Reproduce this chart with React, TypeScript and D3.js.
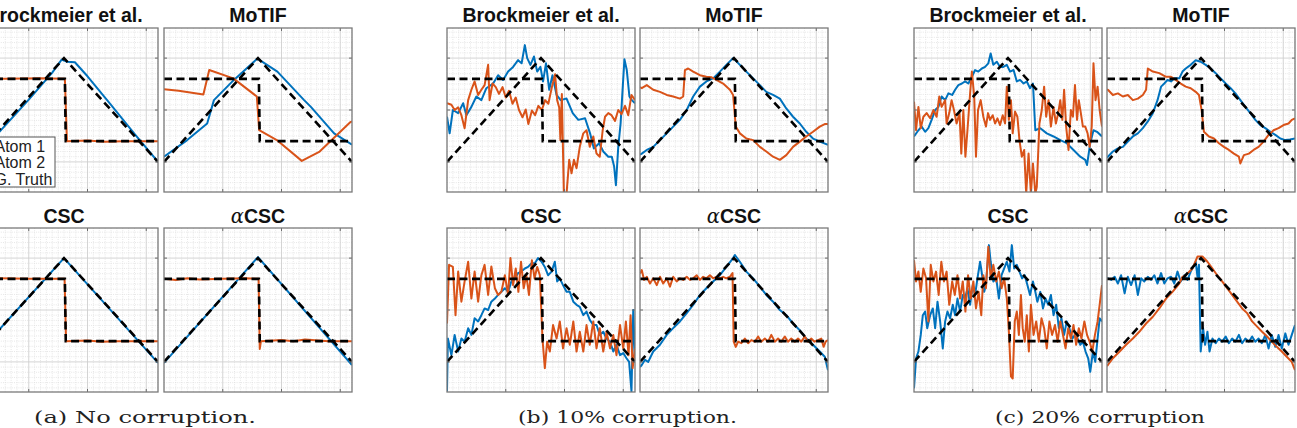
import { useEffect, useRef } from 'react';
import * as d3 from 'd3';

type Pt = [number, number];

// ground truth atoms (sample index 0..64)
const gtTriangle: Pt[] = [[0, -1], [32, 1], [64, -1]];
const gtStep: Pt[] = [[0, 0.6], [32.3, 0.6], [32.6, -0.6], [64, -0.6]];

// (a) no corruption
const aBrockBlue: Pt[] = [[0, -1.05], [10, -0.42], [20, 0.2], [28, 0.72], [31.2, 0.97], [32.2, 0.95], [33, 0.93], [35.7, 0.92], [40, 0.65], [48, 0.1], [56, -0.46], [64, -1.0]];
const aBrockOrange: Pt[] = [[0, 0.6], [12, 0.6], [24, 0.61], [32.3, 0.6], [33.0, -0.6], [40, -0.59], [46, -0.61], [52, -0.6], [64, -0.6]];
const aMotifBlue: Pt[] = [[0, -0.9], [7.9, -0.58], [14.7, -0.26], [17, 0.19], [23.8, 0.58], [31.8, 0.99], [38.6, 0.74], [47.7, 0.19], [50, 0.06], [57.9, -0.45], [64, -0.67]];
const aMotifOrange: Pt[] = [[0, 0.4], [5, 0.37], [13.4, 0.3], [15.4, 0.77], [23.6, 0.61], [31.6, 0.26], [32.4, -0.39], [38.4, -0.58], [46.9, -0.98], [53, -0.8], [63.3, -0.24], [64, -0.22]];
const aCscBlue: Pt[] = [[0, -1.0], [32, 1.0], [64, -1.02]];
const aCscOrange: Pt[] = [[0, 0.6], [10, 0.61], [20, 0.6], [32.2, 0.6], [32.7, -0.6], [40, -0.59], [45, -0.61], [50, -0.6], [64, -0.6]];
const aAlphaBlue: Pt[] = [[0, -1.02], [32, 1.02], [64, -1.06]];
const aAlphaOrange: Pt[] = [[0, 0.6], [4, 0.58], [8, 0.61], [12, 0.59], [20, 0.6], [28, 0.61], [32.2, 0.6], [32.6, -0.75], [33, -0.6], [40, -0.58], [44, -0.6], [48, -0.57], [56, -0.6], [64, -0.6]];

// (b) 10% corruption
const bBrockBlue: Pt[] = [[0, -0.13], [0.9, -0.45], [2.0, 0.0], [3.8, -0.06], [5.5, 0.13], [6.6, -0.1], [8.3, 0.06], [10.0, 0.26], [11.7, 0.19], [13.4, 0.42], [15.7, 0.51], [17.4, 0.67], [19.1, 0.58], [20.8, 0.74], [22.5, 0.83], [24.2, 0.96], [25.4, 0.9], [26.5, 1.25], [27.3, 1.0], [28.4, 0.87], [29.6, 1.03], [30.7, 0.74], [31.8, 0.83], [32.7, 0.55], [33.7, 0.9], [34.8, 0.39], [35.9, 0.67], [37.3, 0.29], [38.7, 0.19], [40.7, 0.22], [42.8, -0.06], [44.7, -0.19], [47.0, -0.16], [48.7, -0.45], [50.0, -0.74], [51.8, -0.64], [53.2, -0.8], [54.9, -0.9], [56.1, -0.9], [56.9, -1.09], [57.5, -1.45], [58.3, -0.71], [59.1, -0.26], [59.7, 0.32], [60.4, 0.98], [61.2, 0.77], [62.1, 0.26], [62.9, 0.19], [64, 0.13]];
const bBrockOrange: Pt[] = [[0, 0.13], [1.5, 0.1], [2.6, 0], [3.8, 0.05], [4.9, -0.1], [6.0, -0.35], [7.2, 0.19], [8.3, 0.39], [9.4, 0.55], [10.6, 0.29], [11.7, 0.39], [12.8, 0.48], [14.0, 0.87], [14.5, 0.19], [15.5, 0.51], [16.6, 0.44], [17.7, 0.31], [18.9, 0.44], [20.0, 0.24], [21.1, 0.37], [22.3, 0.12], [23.4, 0.24], [24.5, 0], [25.7, -0.14], [26.8, 0.01], [27.7, -0.27], [28.9, -0.01], [30.0, -0.1], [31.1, 0.08], [32.3, 0], [33.4, 0.19], [34.5, 0.12], [35.7, 0.44], [36.8, 0.69], [37.5, 0.19], [38.2, 0.05], [38.6, -0.58], [39.1, 0.31], [39.8, -1.67], [40.7, -1.61], [41.6, -0.96], [42.4, -1.22], [43.2, -0.96], [44.1, -1.12], [45.2, -0.71], [46.4, -0.45], [47.5, -0.39], [48.6, -0.71], [49.8, -0.51], [50.9, -0.84], [52.0, -0.9], [53.0, -0.39], [53.8, -0.13], [54.9, -0.06], [56.0, -0.1], [57.2, -0.21], [58.3, 0], [59.4, -0.08], [60.6, 0.08], [61.7, -0.1], [62.8, 0.29], [64, 0.19]];
const bMotifBlue: Pt[] = [[0, -0.86], [0.6, -0.84], [2.3, -0.77], [4.5, -0.71], [6.8, -0.58], [9.1, -0.45], [11.3, -0.32], [13.6, -0.19], [15.9, 0], [18.1, 0.26], [20.4, 0.45], [22.6, 0.55], [24.9, 0.61], [27.2, 0.74], [29.4, 0.87], [31.7, 1.0], [34.0, 0.87], [36.2, 0.74], [38.5, 0.61], [40.8, 0.48], [43.0, 0.35], [45.3, 0.29], [47.6, 0.22], [49.8, 0.03], [52.1, -0.13], [54.4, -0.26], [56.6, -0.42], [58.9, -0.55], [61.2, -0.61], [64, -0.67]];
const bMotifOrange: Pt[] = [[0, 0.44], [0.6, 0.42], [2.3, 0.48], [4.5, 0.39], [6.8, 0.35], [9.1, 0.29], [11.3, 0.26], [13.6, 0.22], [14.7, 0.26], [15.3, 0.77], [16.4, 0.8], [18.1, 0.74], [20.4, 0.67], [22.6, 0.64], [24.4, 0.63], [26.0, 0.58], [28.3, 0.51], [30.6, 0.39], [31.7, 0.29], [32.6, -0.32], [34.0, -0.45], [36.2, -0.55], [38.5, -0.58], [40.8, -0.71], [43.0, -0.8], [45.3, -0.9], [47.6, -0.96], [49.8, -0.87], [52.1, -0.71], [54.4, -0.61], [56.6, -0.51], [58.9, -0.42], [61.2, -0.32], [62.9, -0.27], [64, -0.27]];
const bCscBlue: Pt[] = [[0, -1.57], [0.3, -0.55], [1.5, -0.87], [2.6, -0.48], [3.8, -0.8], [4.9, -0.55], [6.0, -0.61], [7.2, -0.35], [8.3, -0.48], [9.4, -0.16], [10.6, -0.22], [11.7, -0.1], [12.8, 0.03], [14.0, 0], [15.1, 0.16], [16.3, 0.22], [17.4, 0.29], [18.5, 0.35], [19.7, 0.42], [20.8, 0.35], [21.9, 0.55], [23.1, 0.61], [24.2, 0.71], [25.3, 0.74], [26.5, 0.8], [27.6, 0.83], [28.8, 0.9], [29.9, 0.9], [31.0, 1.0], [32.2, 0.93], [33.3, 0.83], [34.4, 0.67], [35.6, 0.74], [36.7, 0.93], [37.5, 0.55], [38.4, 0.61], [39.5, 0.48], [40.7, 0.35], [41.8, 0.35], [43.0, 0.16], [44.1, 0.1], [45.2, 0.06], [46.4, -0.1], [47.5, -0.03], [48.6, -0.19], [49.8, -0.29], [50.9, -0.29], [52.0, -0.48], [53.2, -0.42], [54.3, -0.55], [55.5, -0.61], [56.6, -0.8], [57.7, -0.67], [58.9, -0.87], [60.0, -0.83], [61.1, -0.93], [62.0, -1.0], [62.8, -1.57], [63.4, 0], [64, -0.9]];
const bCscOrange: Pt[] = [[0, -0.26], [0.7, 0.87], [2.0, 0.83], [2.9, -0.1], [3.8, 0.74], [4.9, 0.16], [6.0, 0.55], [7.2, 0.93], [8.3, 0.22], [9.4, 0.74], [10.6, 0.16], [11.7, 0.67], [12.8, 0.87], [14.0, 0.29], [15.1, 0.84], [16.3, 0.42], [17.4, 0.29], [18.5, 0.35], [19.7, 0.67], [20.8, 0.29], [21.6, 1.0], [22.5, 0.48], [23.4, 0.8], [24.3, 0.35], [25.2, 0.93], [26.1, 0.42], [27.0, 0.67], [27.9, 0.29], [28.9, 0.96], [29.8, 0.61], [30.7, 0.83], [31.6, 0.67], [32.5, -0.55], [33.3, -1.12], [34.1, -0.61], [35.0, -0.8], [36.1, -0.29], [37.3, -0.55], [38.4, -0.22], [39.5, -0.74], [40.7, -0.35], [41.8, -0.67], [43.0, -0.22], [44.1, -0.8], [45.2, -0.42], [46.4, -0.8], [47.5, -0.29], [48.6, -0.67], [49.8, -0.22], [50.9, -0.74], [52.0, -0.35], [53.2, -0.8], [54.3, -0.42], [55.5, -0.74], [56.6, -0.48], [57.7, -0.87], [58.9, -0.29], [60.0, -0.74], [60.9, -0.22], [61.8, -0.87], [62.5, -0.1], [63.2, -1.12], [64, -0.74]];
const bAlphaBlue: Pt[] = [[0, -1.1], [0.6, -1.06], [1.7, -0.96], [2.8, -1.0], [4.5, -0.8], [6.8, -0.67], [9.1, -0.48], [11.3, -0.35], [13.6, -0.22], [15.9, -0.06], [18.1, 0.1], [20.4, 0.29], [22.6, 0.42], [24.9, 0.55], [27.2, 0.67], [29.4, 0.83], [31.7, 1.0], [32.3, 1.06], [34.0, 0.93], [36.2, 0.74], [38.5, 0.61], [40.8, 0.45], [43.0, 0.29], [45.3, 0.16], [47.6, 0], [49.8, -0.1], [52.1, -0.26], [54.4, -0.39], [56.6, -0.55], [58.9, -0.67], [61.2, -0.8], [62.9, -0.9], [64, -1.16]];
const bAlphaOrange: Pt[] = [[0, 0.7], [0.6, 0.77], [1.4, 0.58], [2.3, 0.64], [3.4, 0.51], [4.5, 0.61], [5.7, 0.48], [6.8, 0.64], [7.9, 0.51], [9.1, 0.61], [10.2, 0.45], [11.3, 0.64], [12.5, 0.55], [13.6, 0.61], [14.7, 0.58], [15.9, 0.64], [17.0, 0.58], [18.1, 0.61], [19.3, 0.67], [20.4, 0.58], [21.5, 0.64], [22.6, 0.61], [23.8, 0.67], [24.9, 0.61], [26.0, 0.64], [27.2, 0.61], [28.3, 0.64], [29.4, 0.61], [30.6, 0.64], [31.5, 0.71], [31.9, -0.61], [32.6, -0.71], [33.4, -0.61], [34.5, -0.64], [35.7, -0.55], [36.8, -0.64], [37.9, -0.58], [39.1, -0.61], [40.2, -0.51], [41.3, -0.61], [42.5, -0.55], [43.6, -0.61], [44.7, -0.48], [45.9, -0.61], [47.0, -0.55], [48.1, -0.61], [49.3, -0.51], [50.4, -0.61], [51.5, -0.55], [52.7, -0.61], [53.8, -0.55], [54.9, -0.61], [56.1, -0.51], [57.2, -0.61], [58.3, -0.55], [59.4, -0.61], [60.6, -0.58], [61.7, -0.55], [62.5, -0.71], [63.2, -0.61], [64, -0.58]];

// (c) 20% corruption
const cBrockBlue: Pt[] = [[0, -0.51], [1.5, -0.39], [2.6, -0.32], [3.8, -0.42], [4.9, -0.35], [6.0, -0.19], [7.2, 0], [8.3, 0.06], [9.4, 0.26], [10.6, 0.19], [11.7, 0.32], [13.0, 0.29], [14.0, 0.39], [15.1, 0.48], [16.3, 0.51], [17.4, 0.55], [18.5, 0.51], [19.7, 0.64], [20.8, 0.77], [21.9, 0.74], [23.1, 0.8], [24.2, 0.83], [25.3, 0.9], [26.1, 1.09], [27.0, 0.87], [28.2, 0.93], [29.3, 0.83], [30.4, 0.83], [31.6, 0.87], [32.7, 0.74], [33.9, 0.77], [35.0, 0.55], [36.1, 0.58], [37.3, 0.51], [38.4, 0.55], [39.5, 0.42], [40.5, 0.51], [41.3, -0.39], [43.0, -0.35], [45.2, -0.45], [47.5, -0.51], [49.8, -0.58], [52.0, -0.64], [54.3, -0.77], [56.6, -0.9], [58.3, -0.96], [58.9, -1.06], [60.0, -0.64], [61.1, -0.39], [62.3, -0.42], [64, -0.51]];
const cBrockOrange: Pt[] = [[0, 0.16], [0.7, -0.39], [1.5, 0.06], [2.3, -0.35], [3.2, -0.13], [4.3, -0.06], [5.5, -0.16], [6.6, 0], [7.7, -0.13], [8.6, 0.26], [9.4, 0.06], [10.6, 0.19], [11.1, -0.26], [12.0, -0.06], [12.8, 0.19], [13.6, 0], [14.5, -0.26], [15.5, -0.06], [16.1, -0.84], [16.8, 0], [17.5, -0.9], [18.2, -0.39], [19.1, 0.32], [19.7, 0.74], [20.5, 0.26], [21.1, -0.9], [21.8, 0], [22.7, 0.19], [23.6, -0.13], [24.5, -0.32], [25.2, -0.06], [25.9, -0.19], [26.8, -0.1], [27.6, -0.26], [28.4, -0.16], [29.3, -0.29], [30.2, -0.1], [31.0, -0.26], [31.6, 0.45], [32.3, -0.19], [33.0, 0.19], [33.6, -0.45], [34.4, -0.03], [35.2, -0.13], [35.9, -0.58], [36.7, -0.9], [37.5, -0.77], [38.2, -1.61], [39.0, -0.84], [39.8, -1.61], [40.5, -1.03], [41.3, -1.61], [41.8, -1.48], [42.7, -0.26], [43.5, 0], [44.3, 0.45], [45.0, -0.13], [45.8, 0.19], [46.6, -0.32], [47.5, 0.06], [48.3, -0.26], [49.1, -0.06], [49.8, 0.19], [50.5, -0.19], [51.1, 0.39], [51.8, -0.32], [52.6, -0.77], [53.4, 0], [54.1, -0.13], [54.8, 0.48], [55.5, -0.19], [56.1, 0.19], [56.8, -0.06], [57.5, -0.32], [58.3, -0.32], [59.1, -0.45], [59.8, -0.71], [60.5, -0.32], [61.1, 0.9], [61.8, 0.19], [62.5, 0.45], [63.2, 0], [64, -0.32]];
const cMotifBlue: Pt[] = [[0, -0.92], [0.3, -0.9], [2.0, -0.8], [3.7, -0.74], [5.4, -0.71], [7.1, -0.61], [8.8, -0.51], [10.5, -0.45], [12.2, -0.35], [13.9, -0.22], [15.6, -0.06], [17.2, 0.19], [18.4, 0.45], [19.5, 0.51], [20.6, 0.58], [21.8, 0.55], [22.9, 0.61], [24.6, 0.61], [25.7, 0.74], [26.8, 0.8], [28.5, 0.87], [30.2, 0.96], [31.9, 0.93], [33.6, 0.87], [35.3, 0.8], [37.0, 0.71], [38.7, 0.61], [40.4, 0.51], [42.1, 0.42], [43.7, 0.32], [45.4, 0.19], [47.1, 0.06], [48.8, -0.06], [50.5, -0.19], [52.2, -0.29], [53.9, -0.35], [55.6, -0.42], [57.3, -0.48], [59.0, -0.55], [60.7, -0.58], [62.3, -0.57], [64, -0.55]];
const cMotifOrange: Pt[] = [[0, 0.4], [0.3, 0.39], [2.0, 0.29], [3.7, 0.32], [5.4, 0.26], [7.1, 0.29], [8.8, 0.19], [10.5, 0.22], [12.2, 0.29], [13.3, 0.39], [13.9, 0.8], [15.6, 0.74], [17.8, 0.71], [20.1, 0.64], [21.8, 0.64], [23.4, 0.58], [25.1, 0.51], [26.8, 0.45], [28.5, 0.42], [30.2, 0.35], [31.3, 0.29], [32.2, 0], [33.0, -0.42], [34.7, -0.51], [36.4, -0.55], [38.1, -0.64], [39.8, -0.71], [41.5, -0.77], [43.2, -0.84], [44.9, -0.9], [45.4, -1.03], [46.6, -0.87], [48.3, -0.84], [49.9, -0.77], [51.6, -0.71], [53.3, -0.61], [55.0, -0.48], [56.7, -0.39], [58.4, -0.35], [60.1, -0.29], [61.8, -0.26], [62.9, -0.19], [64, -0.16]];
const cCscBlue: Pt[] = [[0, -1.51], [0.7, -0.93], [1.5, -0.8], [2.3, -0.48], [3.0, -0.1], [3.8, -0.03], [4.5, -0.35], [5.5, -0.1], [6.4, 0.03], [7.2, -0.35], [8.0, 0.16], [8.9, -0.22], [9.8, -0.74], [10.6, -0.22], [11.4, -0.03], [12.3, -0.16], [13.2, 0.1], [14.0, -0.1], [14.8, 0.22], [15.7, -0.03], [16.6, 0.29], [17.4, 0.22], [18.2, 0.42], [19.1, 0.1], [20.0, 0.48], [20.8, 0.29], [21.6, 0.61], [22.5, 0.93], [23.2, 0.67], [23.9, 0.35], [24.5, 0.48], [25.5, 1.25], [26.1, 0.93], [27.0, 0.55], [28.0, 0.61], [28.9, 0.22], [29.8, 0.67], [30.7, 0.8], [31.6, 0.93], [32.5, 0.74], [33.3, 1.25], [34.1, 0.8], [35.0, 0.87], [35.9, 0.74], [36.8, 0.61], [37.7, 0.67], [38.6, 0.48], [39.5, 0.29], [40.5, 0.55], [41.3, 0.35], [42.0, 0.16], [43.0, 0.35], [43.9, 0.03], [44.8, 0.22], [45.7, 0.1], [46.6, 0.29], [47.5, -0.1], [48.4, 0.1], [49.3, -0.35], [50.2, -0.16], [51.1, -0.48], [52.0, -0.22], [52.9, -0.35], [53.9, -0.55], [54.8, -0.48], [55.7, -0.55], [56.6, -0.67], [57.5, -0.61], [58.4, -0.8], [59.3, -0.93], [60.0, -1.19], [60.9, -0.8], [61.7, -1.0], [62.5, -0.55], [63.2, -0.16], [64, -0.22]];
const cCscOrange: Pt[] = [[0, 0.96], [0.7, 0.55], [1.5, 0.74], [2.3, 0.35], [3.2, 0.8], [4.1, 0.61], [4.9, -0.22], [5.7, 0.87], [6.6, 0.55], [7.5, 0.74], [8.4, 0.29], [9.3, 0.93], [10.2, 0.55], [11.1, 0.74], [12.0, 0.1], [13.0, 0.55], [13.9, 0.29], [14.8, 0.67], [15.7, 0.22], [16.6, 0.55], [17.5, -0.03], [18.4, 0.67], [19.3, 0.22], [20.2, 0.55], [21.1, 0.03], [22.0, 0.35], [22.9, -0.1], [23.6, 0.67], [24.5, 0.42], [25.3, 1.22], [26.1, 0.61], [27.0, 0.87], [28.0, 0.55], [28.9, 0.74], [29.8, 0.42], [30.7, 0.61], [31.6, 0.22], [32.3, -0.42], [33.0, -1.28], [33.6, -1.32], [34.3, -0.22], [35.0, -0.03], [35.7, -0.48], [36.4, 0.29], [37.0, -0.35], [37.7, -0.61], [38.4, -0.1], [39.1, -0.8], [39.8, 0.1], [40.7, -0.48], [41.6, -0.22], [42.5, -0.61], [43.4, -0.16], [44.3, -0.35], [45.2, -0.74], [46.1, -0.22], [47.0, -0.48], [48.0, -0.29], [48.9, -0.61], [49.8, -0.22], [50.7, -0.48], [51.6, -0.74], [52.5, -0.35], [53.4, -0.55], [54.3, -0.29], [55.2, -0.67], [56.1, -0.35], [57.0, -0.55], [58.0, -0.22], [58.9, -0.48], [59.8, -0.61], [60.7, -0.8], [61.6, -0.48], [62.5, -0.22], [63.2, 0.1], [64, 0.48]];
const cAlphaBlue: Pt[] = [[0, 0.6], [0.3, 0.61], [1.5, 0.58], [2.6, 0.64], [3.7, 0.51], [4.8, 0.67], [6.0, 0.32], [7.1, 0.64], [8.2, 0.48], [9.4, 0.67], [10.5, 0.29], [11.6, 0.61], [12.7, 0.55], [13.9, 0.64], [15.0, 0.58], [16.1, 0.67], [17.2, 0.51], [18.4, 0.71], [19.5, 0.51], [20.6, 0.61], [21.8, 0.64], [22.9, 0.51], [24.0, 0.74], [25.1, 0.55], [26.3, 0.67], [27.4, 0.58], [28.5, 0.74], [29.7, 0.87], [30.2, 0.93], [30.8, 0.64], [31.3, 0.87], [31.9, -0.8], [32.7, -0.35], [33.4, -0.67], [34.2, -0.42], [34.9, -0.8], [35.9, -0.55], [37.0, -0.64], [38.1, -0.55], [39.2, -0.61], [40.4, -0.51], [41.5, -0.64], [42.6, -0.55], [43.7, -0.61], [44.9, -0.48], [46.0, -0.64], [47.1, -0.55], [48.3, -0.61], [49.4, -0.51], [50.5, -0.61], [51.6, -0.55], [52.7, -0.64], [53.9, -0.48], [55.0, -0.74], [56.1, -0.48], [57.3, -0.71], [58.4, -0.48], [59.5, -0.74], [60.7, -0.45], [61.8, -0.67], [62.9, -0.48], [64, -0.29]];
const cAlphaOrange: Pt[] = [[0, -1.08], [0.3, -1.06], [2.0, -0.93], [4.3, -0.8], [6.5, -0.67], [8.8, -0.55], [11.0, -0.42], [13.3, -0.26], [15.6, -0.13], [17.8, 0.03], [20.1, 0.22], [22.3, 0.35], [24.6, 0.51], [25.7, 0.64], [26.8, 0.67], [29.1, 0.8], [30.8, 1.03], [32.5, 1.03], [34.2, 0.93], [35.9, 0.8], [37.5, 0.67], [39.2, 0.55], [40.9, 0.42], [42.6, 0.29], [44.3, 0.16], [46.0, 0.03], [47.7, -0.06], [49.4, -0.22], [51.1, -0.32], [52.8, -0.42], [54.5, -0.51], [56.1, -0.61], [57.8, -0.71], [59.5, -0.8], [61.2, -0.9], [62.9, -1.0], [64, -1.16]];

const methodTitles = ['Brockmeier et al.', 'MoTIF', 'CSC', 'CSC'];
const captions = ['(a) No corruption.', '(b) 10% corruption.', '(c) 20% corruption'];
const legendLabels = ['Atom 1', 'Atom 2', 'G. Truth'];

const blueSeries = [
  [aBrockBlue, aMotifBlue, aCscBlue, aAlphaBlue],
  [bBrockBlue, bMotifBlue, bCscBlue, bAlphaBlue],
  [cBrockBlue, cMotifBlue, cCscBlue, cAlphaBlue],
];
const orangeSeries = [
  [aBrockOrange, aMotifOrange, aCscOrange, aAlphaOrange],
  [bBrockOrange, bMotifOrange, bCscOrange, bAlphaOrange],
  [cBrockOrange, cMotifOrange, cCscOrange, cAlphaOrange],
];

const xDomain = [0, 64];
const yDomain = [-1.58, 1.58];
const xTicks = [20, 40, 60];
const yTicks = [-1, 0, 1];

// layout
const panelLefts = [[-30, 164], [447, 640], [914, 1107]];
const rowTops = [28, 228];
const boxW = 188;
const boxH = 164;
const titleY = [22, 223];
const captionX = [145, 627.5, 1100];
const captionW = [222, 219, 210];
const BLUE = '#0072BD';
const ORANGE = '#D95319';

export default function App() {
  const svgRef = useRef<SVGSVGElement>(null);

  useEffect(() => {
    if (!svgRef.current) return;
    const svg = d3.select(svgRef.current);
    svg.selectAll('*').remove();

    const xMinor = d3.range(xDomain[0], xDomain[1] + 0.001, 2).filter(v => !xTicks.includes(v));
    const yMinor = d3.range(-15, 16).map(v => v / 10).filter(v => !yTicks.includes(v));

    for (let g = 0; g < 3; g++) {
      for (let k = 0; k < 4; k++) {
        const row = k >> 1;
        const col = k & 1;
        const left = panelLefts[g][col];
        const top = rowTops[row];
        const x = d3.scaleLinear().domain(xDomain).range([left, left + boxW]);
        const y = d3.scaleLinear().domain(yDomain).range([top + boxH, top]);
        const panel = svg.append('g');
        const clipId = `clip-${g}-${k}`;

        panel.append('clipPath').attr('id', clipId)
          .append('rect').attr('x', left).attr('y', top).attr('width', boxW).attr('height', boxH);

        panel.append('rect')
          .attr('x', left).attr('y', top).attr('width', boxW).attr('height', boxH)
          .attr('fill', '#fff');

        // minor grid
        panel.selectAll('.vminor').data(xMinor).enter().append('line')
          .attr('x1', d => x(d)).attr('x2', d => x(d))
          .attr('y1', top).attr('y2', top + boxH)
          .attr('stroke', '#dcdcdc').attr('stroke-width', 0.7).attr('stroke-dasharray', '1,1.2');
        panel.selectAll('.hminor').data(yMinor).enter().append('line')
          .attr('y1', d => y(d)).attr('y2', d => y(d))
          .attr('x1', left).attr('x2', left + boxW)
          .attr('stroke', '#dcdcdc').attr('stroke-width', 0.7).attr('stroke-dasharray', '1,1.2');
        // major grid
        panel.selectAll('.vmajor').data(xTicks).enter().append('line')
          .attr('x1', d => x(d)).attr('x2', d => x(d))
          .attr('y1', top).attr('y2', top + boxH)
          .attr('stroke', '#cfcfcf').attr('stroke-width', 0.9);
        panel.selectAll('.hmajor').data(yTicks).enter().append('line')
          .attr('y1', d => y(d)).attr('y2', d => y(d))
          .attr('x1', left).attr('x2', left + boxW)
          .attr('stroke', '#cfcfcf').attr('stroke-width', 0.9);

        const line = d3.line<Pt>().x(d => x(d[0])).y(d => y(d[1]));
        const plot = panel.append('g').attr('clip-path', `url(#${clipId})`);

        plot.append('path').attr('d', line(blueSeries[g][k]))
          .attr('fill', 'none').attr('stroke', BLUE).attr('stroke-width', 2).attr('stroke-linejoin', 'round');
        plot.append('path').attr('d', line(orangeSeries[g][k]))
          .attr('fill', 'none').attr('stroke', ORANGE).attr('stroke-width', 2).attr('stroke-linejoin', 'round');
        [gtTriangle, gtStep].forEach(s => {
          plot.append('path').attr('d', line(s))
            .attr('fill', 'none').attr('stroke', '#000').attr('stroke-width', 2.6)
            .attr('stroke-dasharray', '8,4.5');
        });

        // tick marks inside the box
        xTicks.forEach(t => {
          panel.append('line').attr('x1', x(t)).attr('x2', x(t)).attr('y1', top).attr('y2', top + 3)
            .attr('stroke', '#6b6b6b').attr('stroke-width', 1);
          panel.append('line').attr('x1', x(t)).attr('x2', x(t)).attr('y1', top + boxH).attr('y2', top + boxH - 3)
            .attr('stroke', '#6b6b6b').attr('stroke-width', 1);
        });
        yTicks.forEach(t => {
          panel.append('line').attr('y1', y(t)).attr('y2', y(t)).attr('x1', left).attr('x2', left + 3)
            .attr('stroke', '#6b6b6b').attr('stroke-width', 1);
          panel.append('line').attr('y1', y(t)).attr('y2', y(t)).attr('x1', left + boxW).attr('x2', left + boxW - 3)
            .attr('stroke', '#6b6b6b').attr('stroke-width', 1);
        });

        panel.append('rect')
          .attr('x', left).attr('y', top).attr('width', boxW).attr('height', boxH)
          .attr('fill', 'none').attr('stroke', '#7a7a7a').attr('stroke-width', 1.3);

        // title
        const title = panel.append('text')
          .attr('x', left + boxW / 2).attr('y', titleY[row])
          .attr('text-anchor', 'middle')
          .attr('font-family', '"Liberation Sans", Arial, sans-serif')
          .attr('font-size', 19.5).attr('font-weight', 'bold').attr('fill', '#111');
        if (k === 3) {
          title.append('tspan').attr('font-family', '"DejaVu Serif", serif').attr('font-style', 'italic')
            .attr('font-weight', 'normal').text('α');
        }
        title.append('tspan').text(methodTitles[k]);

        // legend in the first panel
        if (g === 0 && k === 0) {
          const lg = panel.append('g');
          lg.append('rect').attr('x', left - 25).attr('y', top + 109).attr('width', 110).attr('height', 50)
            .attr('fill', '#fff').attr('stroke', '#555').attr('stroke-width', 1);
          legendLabels.forEach((lab, i) => {
            const ly = top + 118 + i * 16.7;
            lg.append('line').attr('x1', left - 20).attr('x2', left + 15).attr('y1', ly).attr('y2', ly)
              .attr('stroke', i === 0 ? BLUE : i === 1 ? ORANGE : '#000').attr('stroke-width', 2)
              .attr('stroke-dasharray', i === 2 ? '8,4.5' : null);
            lg.append('text').attr('x', left + 24.5).attr('y', ly + 5.5)
              .attr('font-family', '"Liberation Sans", Arial, sans-serif').attr('font-size', 16)
              .attr('fill', '#222').text(lab);
          });
        }
      }

      svg.append('text')
        .attr('x', captionX[g]).attr('y', 423)
        .attr('text-anchor', 'middle')
        .attr('font-family', '"DejaVu Serif", "Liberation Serif", serif')
        .attr('font-size', 17.5).attr('fill', '#222')
        .attr('textLength', captionW[g]).attr('lengthAdjust', 'spacingAndGlyphs')
        .text(captions[g]);
    }
  }, []);

  return (
    <div style={{ position: 'absolute', left: 0, top: 0 }}>
      <svg ref={svgRef} width={1297} height={428} style={{ display: 'block', background: '#fff' }} />
    </div>
  );
}
